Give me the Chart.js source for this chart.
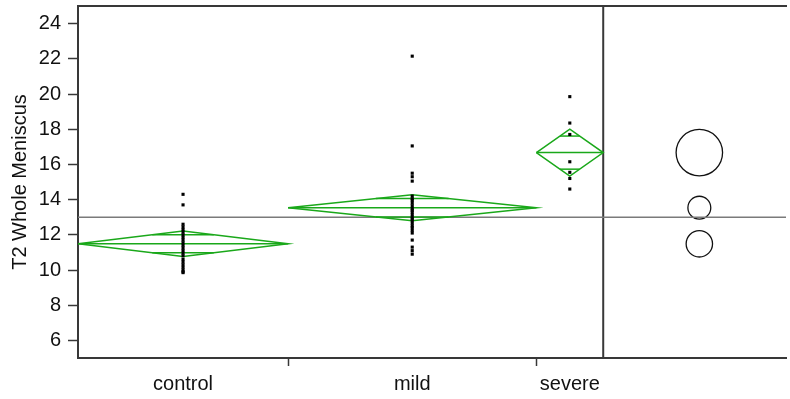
<!DOCTYPE html>
<html>
<head>
<meta charset="utf-8">
<script src="https://cdn.jsdelivr.net/npm/chart.js@4/dist/chart.umd.min.js"></script>
<style>
  body { margin: 0; background: #fff; }
</style>
</head>
<body>
<canvas id="graph" width="790" height="399"></canvas>
<script>
const groups = ['control', 'mild', 'severe'];

const controlValues = [14.3, 13.7, 12.6, 12.45, 12.3, 12.15, 12.0, 11.85, 11.7, 11.55, 11.4,
    11.25, 11.1, 10.95, 10.8, 10.6, 10.45, 10.3, 10.15, 10.0, 9.9, 9.85];
const mildValues = [22.15, 17.05, 15.5, 15.3, 15.05, 14.2, 14.05, 13.95, 13.8, 13.65, 13.5,
    13.4, 13.3, 13.15, 13.0, 12.9, 12.8, 12.65, 12.5, 12.4, 12.25, 12.1, 11.7, 11.3, 11.1, 10.9];
const severeValues = [19.85, 18.35, 17.7, 16.15, 15.55, 15.2, 14.6];

// means diamonds: group mean and half height of the 95% interval
const groupMeans = [11.49, 13.54, 16.67];
const groupCIHalf = [0.72, 0.74, 1.33];
// comparison circle radii, in response units
const circleRadii = [0.75, 0.65, 1.32];
const grandMean = 13.0;

const yTickValues = [6, 8, 10, 12, 14, 16, 18, 20, 22, 24];
const yMin = 5;
const yMax = 25;

const green = '#1aa81a';
const axisColor = '#383838';

Chart.defaults.font.family = '"Liberation Sans", Arial, sans-serif';
Chart.defaults.font.size = 20;
Chart.defaults.color = '#111';

// group widths are proportional to the number of observations
var samples = [controlValues, mildValues, severeValues];
var starts = [];
var ends = [];
var total = 0;
samples.forEach(s => {
    starts.push(total);
    total += s.length;
    ends.push(total);
});
var centers = starts.map((s, i) => (s + ends[i]) / 2);
var xMax = total * 1.348;      // extra room on the right for the circles panel
var circleX = total * 1.183;

function line(points, color, width, order) {
    return {
        data: points,
        showLine: true,
        borderColor: color,
        borderWidth: width,
        pointRadius: 0,
        fill: false,
        order: order
    };
}

var datasets = [];

// raw observations
samples.forEach((values, i) => {
    datasets.push({
        data: values.map(v => ({ x: centers[i], y: v })),
        pointStyle: 'rect',
        pointRadius: 2.2,
        borderWidth: 0,
        backgroundColor: '#000',
        order: 0
    });
});

// means diamonds with overlap marks
groups.forEach((g, i) => {
    var m = groupMeans[i];
    var h = groupCIHalf[i];
    var c = centers[i];
    datasets.push(line([
        { x: starts[i], y: m },
        { x: c, y: m + h },
        { x: ends[i], y: m },
        { x: c, y: m - h },
        { x: starts[i], y: m }
    ], green, 1.5, 1));
    datasets.push(line([{ x: starts[i], y: m }, { x: ends[i], y: m }], green, 1.5, 1));

    var hw = (ends[i] - starts[i]) / 2 * (1 - Math.SQRT1_2);
    var off = h * Math.SQRT1_2;
    datasets.push(line([{ x: c - hw, y: m + off }, { x: c + hw, y: m + off }], green, 1.5, 1));
    datasets.push(line([{ x: c - hw, y: m - off }, { x: c + hw, y: m - off }], green, 1.5, 1));
});

// grand mean and panel divider
datasets.push(line([{ x: 0, y: grandMean }, { x: xMax, y: grandMean }], '#7a7a7a', 1.4, 2));
datasets.push(line([{ x: total, y: yMin }, { x: total, y: yMax }], axisColor, 2, 2));

// comparison circles
datasets.push({
    data: groupMeans.map(m => ({ x: circleX, y: m })),
    pointStyle: 'circle',
    pointRadius: ctx => {
        var y = ctx.chart.scales.y;
        var r = circleRadii[ctx.dataIndex];
        var m = groupMeans[ctx.dataIndex];
        return Math.abs(y.getPixelForValue(m) - y.getPixelForValue(m + r));
    },
    backgroundColor: 'rgba(0,0,0,0)',
    borderColor: '#111',
    borderWidth: 1.3,
    order: 2
});

var tickLabels = {};
centers.forEach((c, i) => tickLabels[c] = groups[i]);
var boundaries = ends.slice(0, -1);

function noPadding(scale) {
    scale.paddingTop = 0;
    scale.paddingBottom = 0;
    scale.paddingLeft = 0;
    scale.paddingRight = 0;
}

new Chart(document.getElementById('graph'), {
    type: 'scatter',
    data: { datasets: datasets },
    options: {
        responsive: false,
        animation: false,
        layout: { padding: { top: 6, right: 0, bottom: 0, left: 0 } },
        plugins: {
            legend: { display: false },
            tooltip: { enabled: false }
        },
        scales: {
            x: {
                type: 'linear',
                min: 0,
                max: xMax,
                afterBuildTicks: scale => {
                    scale.ticks = centers.concat(boundaries).map(v => ({ value: v }));
                },
                afterFit: scale => {
                    scale.height = 41;
                    noPadding(scale);
                },
                ticks: {
                    autoSkip: false,
                    maxRotation: 0,
                    padding: 6,
                    callback: v => tickLabels[v] || ''
                },
                grid: {
                    drawOnChartArea: false,
                    tickLength: 8,
                    tickWidth: 1.5,
                    tickColor: ctx => boundaries.includes(ctx.tick.value) ? axisColor : 'rgba(0,0,0,0)'
                },
                border: { color: axisColor, width: 2 }
            },
            xTop: {
                type: 'linear',
                position: 'top',
                min: 0,
                max: xMax,
                afterFit: scale => {
                    scale.height = 0;
                    noPadding(scale);
                },
                ticks: { display: false },
                grid: { display: false },
                border: { color: axisColor, width: 2 }
            },
            y: {
                min: yMin,
                max: yMax,
                afterBuildTicks: scale => {
                    scale.ticks = yTickValues.map(v => ({ value: v }));
                },
                afterFit: scale => {
                    scale.width = 78;
                    noPadding(scale);
                },
                ticks: { padding: 7 },
                grid: {
                    drawOnChartArea: false,
                    tickLength: 10,
                    tickWidth: 1.5,
                    tickColor: axisColor
                },
                border: { color: axisColor, width: 2 },
                title: {
                    display: true,
                    text: 'T2 Whole Meniscus',
                    padding: { top: 8, bottom: 0 }
                }
            }
        }
    }
});
</script>
</body>
</html>
